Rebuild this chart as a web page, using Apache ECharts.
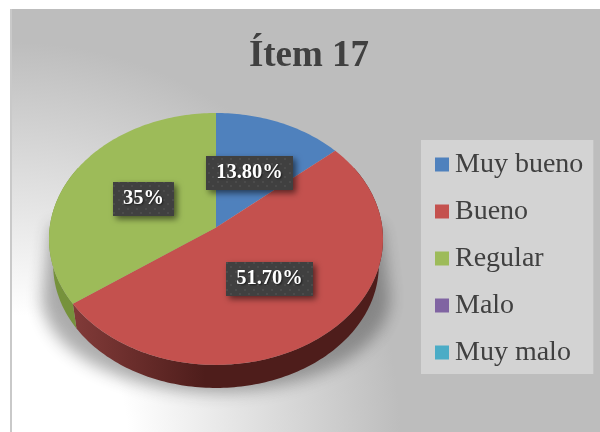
<!DOCTYPE html>
<html>
<head>
<meta charset="utf-8">
<style>html,body{margin:0;padding:0;background:#fff}#c{width:600px;height:432px}</style>
<script src="https://cdn.jsdelivr.net/npm/echarts@6/dist/echarts.min.js"></script>
</head>
<body>
<div id="c"></div>
<script>
var chartTitle = 'Ítem 17';
var categories = ['Muy bueno', 'Bueno', 'Regular', 'Malo', 'Muy malo'];
var values = [13.8, 51.7, 35, 0, 0];
var valueLabels = ['13.80%', '51.70%', '35%', '', ''];
var colors = ['#4f81bd', '#c4514e', '#9dbb59', '#8064a2', '#4bacc6'];

var FONT = '"Liberation Serif","Times New Roman",serif';
var CX = 216, CY = 227.5, RX = 166.3, RY = 124.9, P = 0.0909;
var SIDE_SCALE = 0.975, SIDE_DROP = 26.5;
var total = values.reduce(function (a, b) { return a + b; }, 0);

function project(theta, r, s, d) {
  var x = r * Math.sin(theta), y = r * Math.cos(theta), q = 1 + P * y;
  return [CX + s * RX * x / q, CY + d - s * RY * y / q];
}
function rim(a0, a1, s, d) {
  var n = Math.max(2, Math.ceil(Math.abs(a1 - a0) / 0.02)), pts = [];
  for (var i = 0; i <= n; i++) pts.push(project(a0 + (a1 - a0) * i / n, 1, s, d));
  return pts;
}
function sliceRange(idx) {
  var before = 0;
  for (var i = 0; i < idx; i++) before += values[i];
  return [before / total * 2 * Math.PI, (before + values[idx]) / total * 2 * Math.PI];
}

var tile = document.createElement('canvas');
tile.width = tile.height = 9;
var tc = tile.getContext('2d');
tc.fillStyle = '#404040'; tc.fillRect(0, 0, 9, 9);
tc.fillStyle = '#4b4b4b'; tc.fillRect(1, 1, 2, 2); tc.fillRect(5, 5, 2, 2);
var meas = document.createElement('canvas').getContext('2d');
meas.font = 'bold 20.5px ' + FONT;

function renderSides(params, api) {
  var idx = api.value(0), range = sliceRange(idx);
  var a0 = Math.max(range[0], Math.PI / 3), a1 = Math.min(range[1], Math.PI * 5 / 3);
  if (a1 <= a0) return { type: 'group', children: [] };
  var poly = rim(a0, a1, 1, 0).concat(rim(a1, a0, SIDE_SCALE, SIDE_DROP));
  var fill = idx === 1
    ? { type: 'linear', x: 72, y: 0, x2: 205, y2: 0, global: true,
        colorStops: [{ offset: 0, color: '#823b39' }, { offset: 1, color: '#4e1d1b' }] }
    : '#76923c';
  return { type: 'polygon', shape: { points: poly }, style: { fill: fill } };
}

/* soft drop shadow: the outline sits off-canvas, only its blurred shadow lands on the chart */
function renderShadow() {
  var OFF = 1200, pts = [[CX + 165 - OFF, 225]];
  for (var i = 0; i <= 80; i++) {
    var t = Math.PI * i / 80;
    pts.push([CX + 174 * Math.cos(t) - OFF, 297 + 95 * Math.sin(t)]);
  }
  pts.push([CX - 165 - OFF, 225]);
  return { type: 'polygon', shape: { points: pts },
    style: { fill: '#000', shadowBlur: 16, shadowOffsetX: OFF, shadowColor: 'rgba(40,40,40,0.38)' } };
}

function renderFace(params, api) {
  var idx = api.value(0), range = sliceRange(idx);
  if (values[idx] <= 0) return { type: 'group', children: [] };
  var pts = [[CX, CY]].concat(rim(range[0], range[1], 1, 0));
  return { type: 'polygon', shape: { points: pts }, style: { fill: colors[idx] } };
}

function renderLabel(params, api) {
  var idx = api.value(0), range = sliceRange(idx), text = valueLabels[idx];
  if (!text) return { type: 'group', children: [] };
  var c = project((range[0] + range[1]) / 2, 0.5, 1, 0);
  var w = Math.round(meas.measureText(text).width) + 20, h = 34;
  var x = Math.round(c[0] - w / 2), y = Math.round(c[1] - h / 2);
  return { type: 'group', children: [
    { type: 'rect', shape: { x: x, y: y, width: w, height: h },
      style: { fill: { image: tile, repeat: 'repeat' }, shadowBlur: 6, shadowOffsetX: 3, shadowOffsetY: 3, shadowColor: 'rgba(0,0,0,0.55)' } },
    { type: 'text', x: x + w / 2, y: y + h / 2,
      style: { text: text, fill: '#fff', font: 'bold 20.5px ' + FONT, align: 'center', verticalAlign: 'middle',
        textShadowBlur: 2, textShadowColor: 'rgba(0,0,0,0.6)', textShadowOffsetX: 1, textShadowOffsetY: 1 } }
  ] };
}

var idxData = values.map(function (v, i) { return [i]; });
var series = [
  { type: 'custom', name: 'sombra', coordinateSystem: 'none', silent: true, z: 1, data: [[0]], renderItem: renderShadow },
  { type: 'custom', name: 'lados', coordinateSystem: 'none', silent: true, z: 2, data: idxData, renderItem: renderSides }
];
categories.forEach(function (name, i) {
  series.push({ type: 'custom', name: name, coordinateSystem: 'none', silent: true, z: 3,
    itemStyle: { color: colors[i] }, data: [[i]], renderItem: renderFace });
});
series.push({ type: 'custom', name: 'etiquetas', coordinateSystem: 'none', silent: true, z: 5, data: idxData, renderItem: renderLabel });

var chart = echarts.init(document.getElementById('c'), null, { renderer: 'canvas' });
chart.setOption({
  animation: false,
  tooltip: { show: false },
  graphic: [
    { type: 'rect', z: 0, silent: true, shape: { x: 10, y: 9, width: 590, height: 423 },
      style: { fill: { type: 'radial', x: 10, y: 432, r: 390, global: true,
        colorStops: [{ offset: 0, color: '#ffffff' }, { offset: 0.3, color: '#ffffff' }, { offset: 1, color: '#bdbdbd' }] } } },
    { type: 'rect', z: 0, silent: true, shape: { x: 10, y: 9, width: 2, height: 423 }, style: { fill: '#c9c9c9' } }
  ],
  title: {
    text: chartTitle, left: 304, top: 33, textAlign: 'center',
    textStyle: { fontFamily: FONT, fontWeight: 'bold', fontSize: 37, color: '#404040' }
  },
  legend: {
    data: categories.map(function (n, i) { return { name: n, icon: 'rect', itemStyle: { color: colors[i] } }; }),
    orient: 'vertical', left: 421, top: 140, selectedMode: false,
    itemWidth: 14, itemHeight: 14, itemGap: 16,
    padding: [9, 10, 6, 14], backgroundColor: '#d3d3d3',
    textStyle: { fontFamily: FONT, fontSize: 28, color: '#404040', lineHeight: 28, padding: [3, 0, 0, 1] }
  },
  series: series
});
</script>
</body>
</html>
